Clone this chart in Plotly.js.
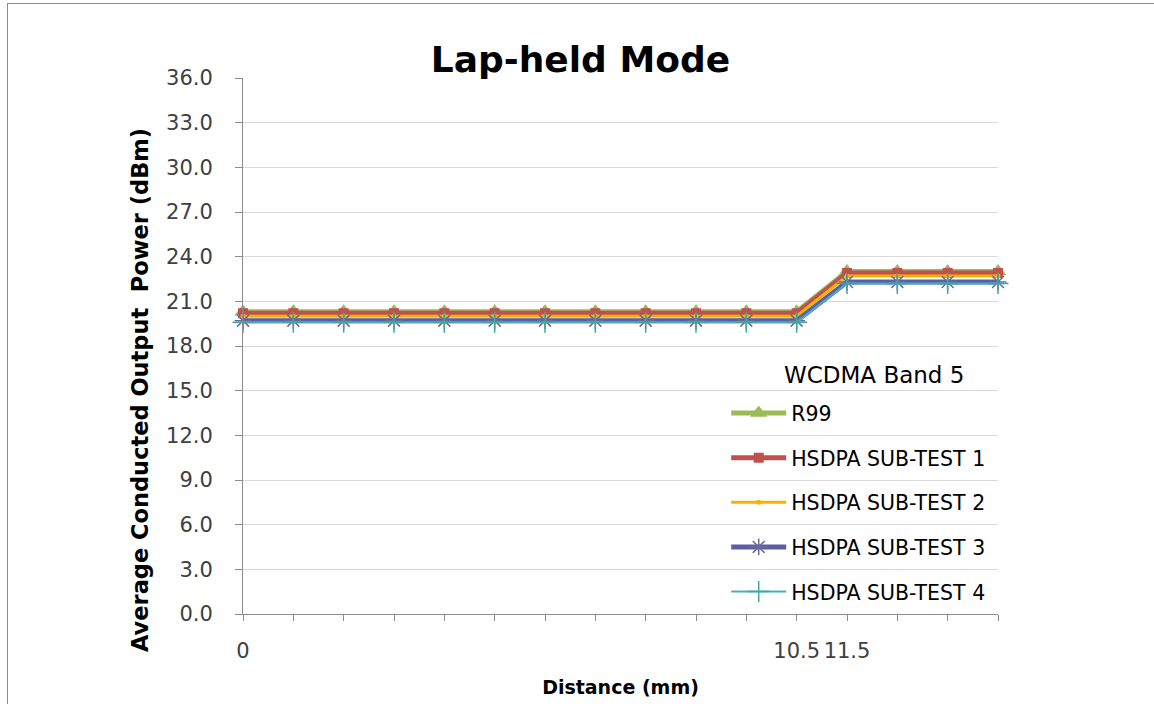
<!DOCTYPE html>
<html>
<head>
<meta charset="utf-8">
<script src="https://cdn.plot.ly/plotly-3.0.1.min.js"></script>
<style>
  html, body { margin: 0; padding: 0; background: #ffffff; }
  #frame { position: absolute; left: 7px; top: 3px; width: 1147px; height: 701px;
           border-left: 1px solid #8c8c8c; border-top: 1px solid #8c8c8c; box-sizing: border-box; }
  #chart { position: absolute; left: 0; top: 0; width: 1154px; height: 704px; }
</style>
</head>
<body>
<div id="frame"></div>
<div id="chart"></div>
<script>
// Category positions (index) and their displayed labels
const distanceIndex = [0, 1, 2, 3, 4, 5, 6, 7, 8, 9, 10, 11, 12, 13, 14, 15];
const distanceLabels = ["0", "", "", "", "", "", "", "", "", "", "", "10.5", "11.5", "", "", ""];

const seriesNames = ["R99", "HSDPA SUB-TEST 1", "HSDPA SUB-TEST 2", "HSDPA SUB-TEST 3", "HSDPA SUB-TEST 4"];
const legendTitle = "WCDMA Band 5";
const yTitle = "Average Conducted Output  Power (dBm)";

const r99    = [20.3, 20.3, 20.3, 20.3, 20.3, 20.3, 20.3, 20.3, 20.3, 20.3, 20.3, 20.3, 23.0, 23.0, 23.0, 23.0];
const hsdpa1 = [20.2, 20.2, 20.2, 20.2, 20.2, 20.2, 20.2, 20.2, 20.2, 20.2, 20.2, 20.2, 22.9, 22.9, 22.9, 22.9];
const hsdpa2 = [20.0, 20.0, 20.0, 20.0, 20.0, 20.0, 20.0, 20.0, 20.0, 20.0, 20.0, 20.0, 22.7, 22.7, 22.7, 22.7];
const hsdpa3 = [19.7, 19.7, 19.7, 19.7, 19.7, 19.7, 19.7, 19.7, 19.7, 19.7, 19.7, 19.7, 22.3, 22.3, 22.3, 22.3];
const hsdpa4 = [19.6, 19.6, 19.6, 19.6, 19.6, 19.6, 19.6, 19.6, 19.6, 19.6, 19.6, 19.6, 22.2, 22.2, 22.2, 22.2];

const seriesValues = [r99, hsdpa1, hsdpa2, hsdpa3, hsdpa4];
const styles = [
  { color: "#9BBB59", width: 5, symbol: "triangle-up", size: 15, mcolor: "#9BBB59", mline: 0 },
  { color: "#C0504D", width: 5, symbol: "square", size: 10, mcolor: "#C0504D", mline: 0 },
  { color: "#F2B400", width: 3, symbol: "circle", size: 5, mcolor: "#F2B400", mline: 0 },
  { color: "#5B5EA6", width: 5, symbol: "asterisk-open", size: 14, mcolor: "#6A6A9A", mline: 1.5 },
  { color: "#4BACC6", width: 2, symbol: "cross-thin-open", size: 15, mcolor: "#3FA7A0", mline: 1.5 }
];

const traces = seriesNames.map((name, i) => ({
  type: "scatter",
  mode: "lines+markers",
  name: name,
  legendgroup: "g" + i,
  x: distanceIndex,
  y: seriesValues[i],
  cliponaxis: false,
  line: { color: styles[i].color, width: styles[i].width },
  marker: {
    symbol: styles[i].symbol,
    size: styles[i].size,
    color: styles[i].mcolor,
    line: { color: styles[i].mcolor, width: styles[i].mline }
  }
}));

const FONT = "'DejaVu Sans', sans-serif";

const layout = {
  width: 1154,
  height: 704,
  paper_bgcolor: "rgba(0,0,0,0)",
  plot_bgcolor: "rgba(0,0,0,0)",
  margin: { l: 243, r: 156, t: 78, b: 90 },
  font: { family: FONT, color: "#404040" },
  title: {
    text: "<b>Lap-held Mode</b>",
    font: { family: FONT, size: 36, color: "#000000" },
    x: 0.503, xanchor: "center", xref: "container",
    y: 0.915, yanchor: "middle", yref: "container"
  },
  xaxis: {
    range: [0, 15],
    tickmode: "array",
    tickvals: distanceIndex,
    ticktext: distanceLabels,
    ticks: "outside",
    ticklen: 6,
    tickcolor: "#8c8c8c",
    showline: true,
    linecolor: "#8c8c8c",
    linewidth: 1,
    showgrid: false,
    zeroline: false,
    ticklabelstandoff: 12,
    tickfont: { family: FONT, size: 21, color: "#404040" },
    title: {
      text: "<b>Distance (mm)</b>",
      font: { family: FONT, size: 19, color: "#000000" },
      standoff: 18
    }
  },
  yaxis: {
    range: [0, 36],
    dtick: 3,
    tick0: 0,
    tickformat: ".1f",
    ticks: "outside",
    ticklen: 7,
    tickcolor: "#8c8c8c",
    showline: true,
    linecolor: "#8c8c8c",
    linewidth: 1,
    showgrid: true,
    gridcolor: "#d9d9d9",
    gridwidth: 1,
    zeroline: false,
    ticklabelstandoff: 18,
    tickfont: { family: FONT, size: 21, color: "#404040" }
  },
  legend: {
    x: 0.64, xanchor: "left",
    y: 0.412, yanchor: "top",
    bgcolor: "rgba(0,0,0,0)",
    borderwidth: 0,
    itemwidth: 55,
    tracegroupgap: 15,
    font: { family: FONT, size: 20.5, color: "#000000" }
  },
  annotations: [
    {
      text: legendTitle,
      xref: "paper", yref: "paper",
      x: (874 - 243) / 755, y: (614 - 375) / 536,
      xanchor: "center", yanchor: "middle",
      showarrow: false,
      font: { family: FONT, size: 23, color: "#000000" }
    },
    {
      text: "<b>" + yTitle + "</b>",
      xref: "paper", yref: "paper",
      x: (140 - 243) / 755, y: (614 - 390) / 536,
      xanchor: "center", yanchor: "middle",
      textangle: -90,
      showarrow: false,
      font: { family: FONT, size: 22.5, color: "#000000" }
    }
  ],
  showlegend: true
};

Plotly.newPlot("chart", traces, layout, { displayModeBar: false, staticPlot: true });
</script>
</body>
</html>
